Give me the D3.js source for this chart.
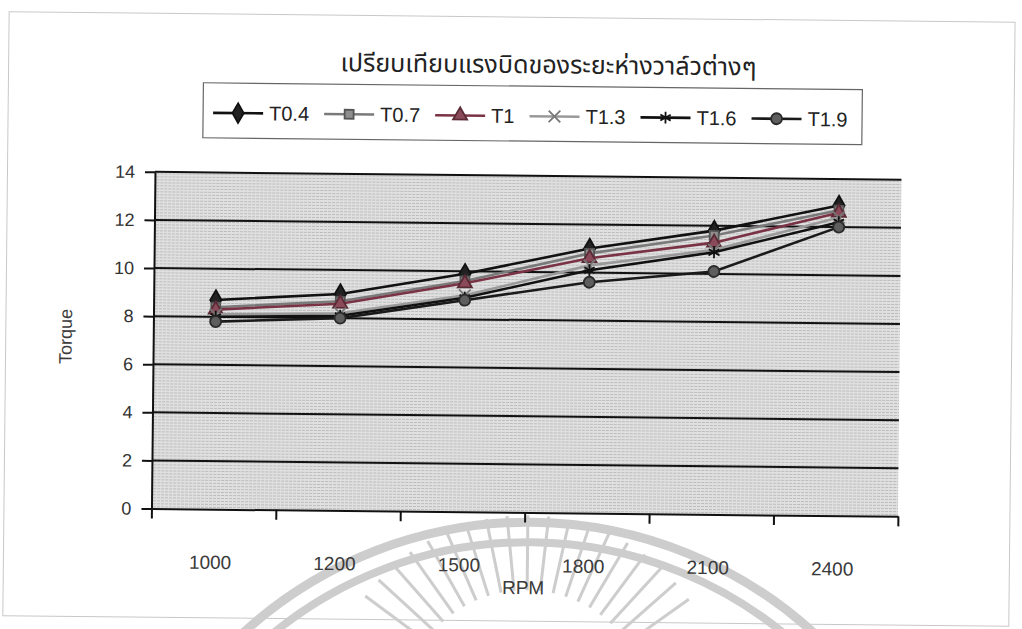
<!DOCTYPE html>
<html>
<head>
<meta charset="utf-8">
<script src="https://cdn.jsdelivr.net/npm/d3@7"></script>
<style>
  body { margin: 0; background: #fff; }
  text { font-family: "Liberation Sans", Arial, sans-serif; }
</style>
</head>
<body>
<svg id="chart" width="1022" height="629"></svg>
<script>
// Engine speed categories (RPM) and torque per valve clearance
const rpm = ["1000", "1200", "1500", "1800", "2100", "2400"];
const seriesNames = ["T0.4", "T0.7", "T1", "T1.3", "T1.6", "T1.9"];
const t04 = [8.7, 9.0, 9.9, 11.0, 11.8, 12.9];
const t07 = [8.4, 8.7, 9.6, 10.8, 11.6, 12.7];
const t1  = [8.3, 8.6, 9.5, 10.6, 11.3, 12.6];
const t13 = [8.1, 8.2, 9.0, 10.3, 11.0, 12.4];
const t16 = [8.0, 8.1, 8.9, 10.1, 10.9, 12.2];
const t19 = [7.8, 8.0, 8.8, 9.6, 10.1, 12.0];
const yTicks = [0, 2, 4, 6, 8, 10, 12, 14];

const title = "เปรียบเทียบแรงบิดของระยะห่างวาล์วต่างๆ";

const seriesValues = [t04, t07, t1, t13, t16, t19];
const styles = [
  { line: "#111", marker: d3.symbolDiamond, fill: "#222", stroke: "#111", size: 110 },
  { line: "#7a7a7a", marker: d3.symbolSquare, fill: "#8e8e8e", stroke: "#555", size: 80 },
  { line: "#7a3344", marker: d3.symbolTriangle, fill: "#8a4a5a", stroke: "#5a2a35", size: 85 },
  { line: "#9a9a9a", marker: d3.symbolX, fill: "none", stroke: "#777", size: 90 },
  { line: "#111", marker: d3.symbolAsterisk, fill: "none", stroke: "#111", size: 100 },
  { line: "#1a1a1a", marker: d3.symbolCircle, fill: "#5e5e5e", stroke: "#2a2a2a", size: 95 }
];
const series = seriesNames.map((name, i) => ({ name, values: seriesValues[i], style: styles[i] }));

const svg = d3.select("#chart");
const defs = svg.append("defs");

// stippled grey fill for the plot area
const pat = defs.append("pattern")
  .attr("id", "stipple").attr("patternUnits", "userSpaceOnUse")
  .attr("width", 4).attr("height", 3);
pat.append("rect").attr("width", 4).attr("height", 3).attr("fill", "#e0e0e0");
pat.append("path").attr("d", "M0,0.5H4").attr("stroke", "#bcbcbc")
  .attr("stroke-width", 1).attr("stroke-dasharray", "2,1");

// the whole sheet sits at a slight tilt
const root = svg.append("g").attr("transform", "rotate(0.6, 511, 315)");

// page frame
root.append("rect").attr("x", 6).attr("y", 17).attr("width", 1006).attr("height", 604)
  .attr("fill", "none").attr("stroke", "#c8c8c8").attr("stroke-width", 1);

const plot = { left: 153.5, right: 900, top: 175.6, bottom: 512.3 };

const x = d3.scaleBand().domain(rpm).range([plot.left, plot.right]);
const xBound = d3.scaleLinear().domain([0, rpm.length]).range([plot.left, plot.right]);
const y = d3.scaleLinear().domain([0, 14]).range([plot.bottom, plot.top]);

// faint seal watermark below the axis
const seal = root.append("g").attr("fill", "none").attr("stroke", "#cdcdcd");
const sealC = { x: 535, y: 945 };
[[423, 9], [403, 8]].forEach(([r, w]) => {
  seal.append("circle").attr("cx", sealC.x).attr("cy", sealC.y).attr("r", r)
    .attr("stroke-width", w);
});
const rayC = { x: 530, y: 715 };
d3.range(-54, 55, 6).forEach(a => {
  const t = a * Math.PI / 180;
  seal.append("line")
    .attr("x1", rayC.x + 125 * Math.sin(t)).attr("y1", rayC.y - 125 * Math.cos(t))
    .attr("x2", rayC.x + 200 * Math.sin(t)).attr("y2", rayC.y - 200 * Math.cos(t))
    .attr("stroke-width", 3);
});

// plot background
root.append("rect")
  .attr("x", plot.left).attr("y", plot.top)
  .attr("width", plot.right - plot.left).attr("height", plot.bottom - plot.top)
  .attr("fill", "url(#stipple)");

// horizontal gridlines
root.append("g").selectAll("line").data(yTicks.filter(v => v > 0)).join("line")
  .attr("x1", plot.left).attr("x2", plot.right)
  .attr("y1", d => y(d)).attr("y2", d => y(d))
  .attr("stroke", "#111").attr("stroke-width", 2);

// y axis
const yAxis = root.append("g").attr("transform", `translate(${plot.left},0)`)
  .call(d3.axisLeft(y).tickValues(yTicks).tickSize(10).tickSizeOuter(0).tickPadding(10)
    .tickFormat(d3.format("d")));
yAxis.select(".domain").attr("stroke", "#111").attr("stroke-width", 2);
yAxis.selectAll(".tick line").attr("stroke", "#111").attr("stroke-width", 2);
yAxis.selectAll(".tick text").attr("font-size", 18).attr("fill", "#333")
  .attr("font-family", "Liberation Sans, Arial, sans-serif");

// x axis: ticks between categories
const xAxis = root.append("g").attr("transform", `translate(0,${plot.bottom})`)
  .call(d3.axisBottom(xBound).tickValues(d3.range(0, rpm.length + 1))
    .tickSize(10).tickSizeOuter(0).tickFormat(""));
xAxis.select(".domain").attr("stroke", "#111").attr("stroke-width", 2);
xAxis.selectAll(".tick line").attr("stroke", "#111").attr("stroke-width", 2);

root.append("g").selectAll("text").data(rpm).join("text")
  .attr("x", d => x(d) + x.bandwidth() / 2 - 3)
  .attr("y", 572)
  .attr("text-anchor", "middle")
  .attr("font-size", 19).attr("fill", "#3a3a3a")
  .text(d => d);

root.append("text").attr("x", 526).attr("y", 594).attr("text-anchor", "middle")
  .attr("font-size", 19).attr("fill", "#3a3a3a").text("RPM");

root.append("text")
  .attr("transform", "translate(72,341) rotate(-90)")
  .attr("text-anchor", "middle").attr("font-size", 18).attr("fill", "#3a3a3a")
  .text("Torque");

// data lines and markers
const line = d3.line().x((d, i) => x(rpm[i]) + x.bandwidth() / 2).y(d => y(d));
const sg = root.append("g").selectAll("g").data(series).join("g");
sg.append("path")
  .attr("d", d => line(d.values))
  .attr("fill", "none")
  .attr("stroke", d => d.style.line)
  .attr("stroke-width", 2.6);
sg.each(function (s) {
  d3.select(this).selectAll("path.m").data(s.values).join("path")
    .attr("class", "m")
    .attr("transform", (v, i) => `translate(${x(rpm[i]) + x.bandwidth() / 2},${y(v)})`)
    .attr("d", d3.symbol().type(s.style.marker).size(s.style.size))
    .attr("fill", s.style.fill)
    .attr("stroke", s.style.stroke)
    .attr("stroke-width", 1.8);
});

// title
const tt = root.append("text").attr("x", 546).attr("y", 73)
  .attr("text-anchor", "middle").attr("fill", "#222")
  .style("font-family", "'Noto Sans Thai', 'Noto Sans Thai UI', Tahoma, 'Noto Sans', sans-serif")
  .attr("font-size", 26).text(title);
const tw = tt.node().getComputedTextLength();
if (tw > 0) tt.attr("font-size", 26 * 416 / tw);

// legend
root.append("rect").attr("x", 201).attr("y", 86).attr("width", 659).attr("height", 55)
  .attr("fill", "#fff").attr("stroke", "#666").attr("stroke-width", 1.2);
let lx = 211;
series.forEach(s => {
  const g = root.append("g").attr("transform", `translate(${lx},116)`);
  g.append("line").attr("x1", 0).attr("x2", 50).attr("y1", 0).attr("y2", 0)
    .attr("stroke", s.style.line).attr("stroke-width", 2.6);
  g.append("path").attr("transform", "translate(25,0)")
    .attr("d", d3.symbol().type(s.style.marker).size(s.style.size))
    .attr("fill", s.style.fill).attr("stroke", s.style.stroke).attr("stroke-width", 1.8);
  const t = g.append("text").attr("x", 56).attr("y", 7)
    .attr("font-size", 20).attr("fill", "#222").text(s.name);
  lx += 56 + t.node().getComputedTextLength() + 15;
});
</script>
</body>
</html>
